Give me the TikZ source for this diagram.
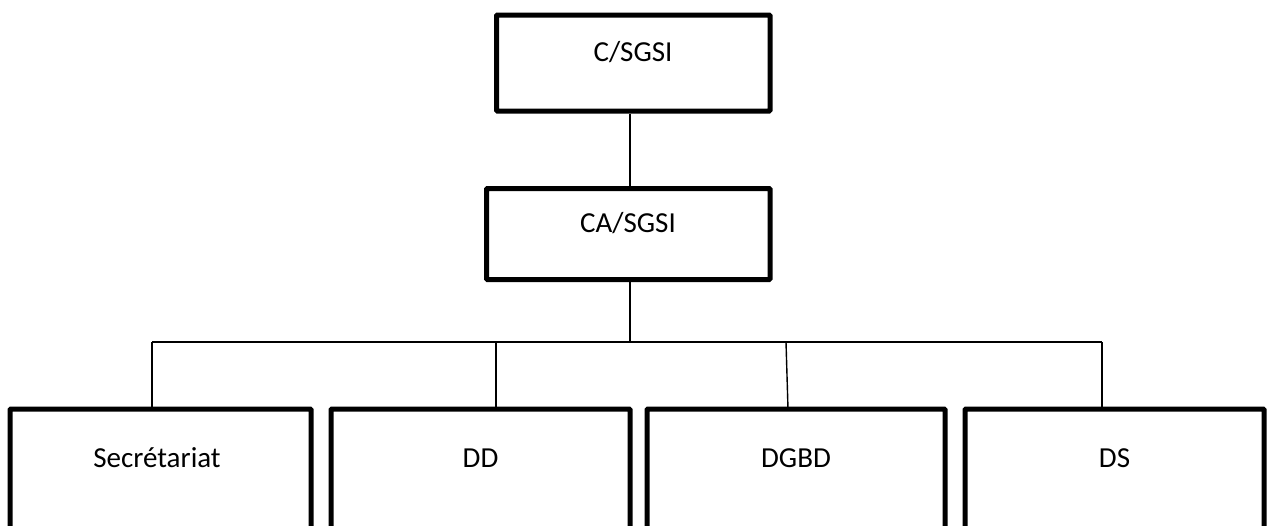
\documentclass[tikz,border=0pt]{standalone}
\usepackage{fontspec}
\setmainfont{Carlito}
\begin{document}
\begin{tikzpicture}[x=1pt,y=-1pt,
  unit/.style={draw=black,line width=5pt,rounded corners=1pt,inner sep=0pt,fill=none},
  lbl/.style={anchor=base,inner sep=0pt,font=\fontsize{29}{34}\selectfont},
  conn/.style={draw=black,line width=1.4pt}]
\path[use as bounding box] (0,0) rectangle (1271,525);
\clip (0,0) rectangle (1271,525);

% boxes (units are pixels of the sheet, y downwards)
\node[unit,minimum width=273.5pt,minimum height=96pt] (top) at (633.25,63) {};
\node[unit,minimum width=283.5pt,minimum height=91pt] (mid) at (628.25,234) {};
\node[unit,minimum width=301pt,minimum height=136pt] (sec) at (160.5,477) {};
\node[unit,minimum width=299pt,minimum height=136pt] (dd) at (480.5,477) {};
\node[unit,minimum width=298pt,minimum height=136pt] (dgbd) at (796,477) {};
\node[unit,minimum width=299pt,minimum height=136pt] (ds) at (1114.5,477) {};

% labels
\node[lbl] (tTop) at (633,61.7) {C/SGSI};
\node[lbl] (tMid) at (628,232) {CA/SGSI};
\node[lbl] (tSec) at (157,467) {Secrétariat};
\node[lbl] (tDd) at (480.5,467) {DD};
\node[lbl] (tDgbd) at (796,467) {DGBD};
\node[lbl] (tDs) at (1114.5,467) {DS};

% connector points
\coordinate (vx) at (630,342);
\coordinate (b1) at (152,342);
\coordinate (b2) at (496,342);
\coordinate (b3) at (786,342);
\coordinate (b4) at (1102,342);
\coordinate (d3) at (788,409);

% connectors
\draw[conn] (top.south -| vx) -- (mid.north -| vx);
\draw[conn] (mid.south -| vx) -- (vx);
\draw[conn] (b1) -- (b4);
\draw[conn] (b1) -- (sec.north -| b1);
\draw[conn] (b2) -- (dd.north -| b2);
\draw[conn] (b3) -- (d3);
\draw[conn] (b4) -- (ds.north -| b4);
\end{tikzpicture}
\end{document}
